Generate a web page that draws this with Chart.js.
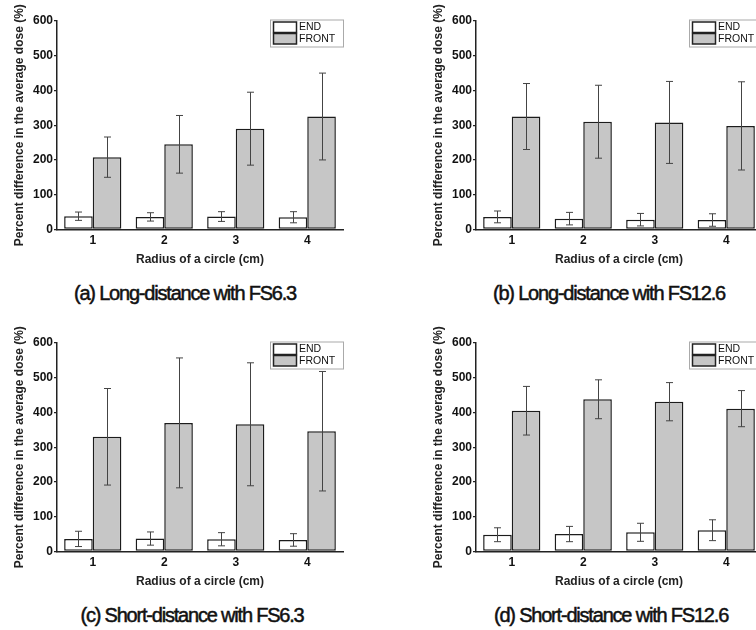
<!DOCTYPE html>
<html>
<head>
<meta charset="utf-8">
<script src="https://cdn.jsdelivr.net/npm/chart.js@4.4.0/dist/chart.umd.min.js"></script>
<style>
    body { margin: 0; background: #fff; }
    #wrap { position: relative; width: 756px; height: 630px; overflow: hidden; background: #fff; }
    #wrap canvas { position: absolute; }
    .caption {
        position: absolute; width: 300px; text-align: center;
        font-family: "Liberation Sans", Arial, sans-serif; font-size: 20px;
        letter-spacing: -1.2px; color: #111; line-height: 24px;
        -webkit-text-stroke: 0.5px #111;
    }
</style>
</head>
<body>
<div id="wrap">
    <canvas id="chartA" width="360" height="280" style="left:0px;top:0px"></canvas>
    <canvas id="chartB" width="360" height="280" style="left:419px;top:0px"></canvas>
    <canvas id="chartC" width="360" height="280" style="left:0px;top:322px"></canvas>
    <canvas id="chartD" width="360" height="280" style="left:419px;top:322px"></canvas>
    <div class="caption" style="left:35px;top:281px">(a) Long-distance with FS6.3</div>
    <div class="caption" style="left:459px;top:281px">(b) Long-distance with FS12.6</div>
    <div class="caption" style="left:42px;top:603px">(c) Short-distance with FS6.3</div>
    <div class="caption" style="left:461px;top:603px">(d) Short-distance with FS12.6</div>
</div>
<script>
const radii = ['1', '2', '3', '4'];
const seriesNames = ['END', 'FRONT'];
const yTicks = [0, 100, 200, 300, 400, 500, 600];

// (a) long-distance FS6.3
const aEnd = [38, 36, 37, 35];
const aEndErr = [12, 12, 14, 16];
const aFront = [208, 245, 290, 325];
const aFrontErr = [58, 83, 105, 125];
// (b) long-distance FS12.6
const bEnd = [36, 31, 28, 27];
const bEndErr = [17, 18, 18, 18];
const bFront = [325, 310, 308, 298];
const bFrontErr = [95, 105, 118, 127];
// (c) short-distance FS6.3
const cEnd = [36, 37, 35, 33];
const cEndErr = [22, 19, 19, 18];
const cFront = [330, 370, 366, 346];
const cFrontErr = [139, 187, 177, 172];
// (d) short-distance FS12.6
const dEnd = [48, 50, 55, 61];
const dEndErr = [20, 22, 26, 30];
const dFront = [405, 438, 431, 411];
const dFrontErr = [70, 56, 55, 52];

Chart.defaults.font.family = '"Liberation Sans", Arial, sans-serif';
Chart.defaults.color = '#111';

const errorBars = {
    id: 'errorBars',
    afterDatasetsDraw(chart) {
        const ctx = chart.ctx;
        const y = chart.scales.y;
        ctx.save();
        ctx.strokeStyle = '#444';
        ctx.lineWidth = 1;
        chart.data.datasets.forEach((ds, i) => {
            const meta = chart.getDatasetMeta(i);
            meta.data.forEach((bar, j) => {
                const top = y.getPixelForValue(ds.data[j] + ds.err[j]);
                const bot = y.getPixelForValue(ds.data[j] - ds.err[j]);
                const x = Math.round(bar.x) + 0.5;
                ctx.beginPath();
                ctx.moveTo(x, top); ctx.lineTo(x, bot);
                ctx.moveTo(x - 3.5, top); ctx.lineTo(x + 3.5, top);
                ctx.moveTo(x - 3.5, bot); ctx.lineTo(x + 3.5, bot);
                ctx.stroke();
            });
        });
        ctx.restore();
    }
};

const boxLegend = {
    id: 'boxLegend',
    afterDraw(chart) {
        const ctx = chart.ctx;
        const area = chart.chartArea;
        const left = area.right - 73, top = area.top - 1.5;
        ctx.save();
        ctx.strokeStyle = '#aaa';
        ctx.lineWidth = 1;
        ctx.strokeRect(left + 0.5, top + 0.5, 73, 27);
        ctx.font = '10.5px "Liberation Sans", Arial, sans-serif';
        ctx.textBaseline = 'middle';
        chart.data.datasets.forEach((ds, i) => {
            const sy = top + 2.5 + i * 11.5;
            ctx.fillStyle = ds.backgroundColor;
            ctx.fillRect(left + 3.5, sy, 23, 10.5);
            ctx.strokeStyle = '#222';
            ctx.lineWidth = 1.5;
            ctx.strokeRect(left + 3.5, sy, 23, 10.5);
            ctx.fillStyle = '#111';
            ctx.fillText(ds.label, left + 29, sy + 5.5);
        });
        ctx.restore();
    }
};

function makePanel(id, endVals, endErr, frontVals, frontErr) {
    const ctx = document.getElementById(id).getContext('2d');
    return new Chart(ctx, {
        type: 'bar',
        data: {
            labels: radii,
            datasets: [
                {
                    label: seriesNames[0],
                    data: endVals,
                    err: endErr,
                    backgroundColor: '#ffffff',
                    borderColor: '#1c1c1c',
                    borderWidth: 1.5,
                    borderSkipped: false,
                    categoryPercentage: 0.8,
                    barPercentage: 1.0,
                },
                {
                    label: seriesNames[1],
                    data: frontVals,
                    err: frontErr,
                    backgroundColor: '#c6c6c6',
                    borderColor: '#1c1c1c',
                    borderWidth: 1.5,
                    borderSkipped: false,
                    categoryPercentage: 0.8,
                    barPercentage: 1.0,
                }
            ]
        },
        options: {
            responsive: false,
            animation: false,
            devicePixelRatio: 1,
            layout: { padding: { top: 21, right: 17, left: 0, bottom: 0 } },
            plugins: {
                legend: { display: false },
                tooltip: { enabled: false },
            },
            scales: {
                x: {
                    offset: true,
                    grid: { display: true, drawOnChartArea: false, drawTicks: false },
                    border: { color: '#222', width: 1.5 },
                    ticks: { padding: 4, font: { size: 12, weight: 'bold' }, color: '#111' },
                    title: {
                        display: true,
                        text: 'Radius of a circle (cm)',
                        font: { size: 12, weight: 'bold' },
                        color: '#222',
                        padding: { top: 0, bottom: 13 },
                    },
                    afterFit: (scale) => { scale.height = 50.6; },
                },
                y: {
                    min: 0,
                    max: 600,
                    afterBuildTicks: (scale) => { scale.ticks = yTicks.map(v => ({ value: v })); },
                    grid: { drawOnChartArea: false, drawTicks: true, tickLength: 3, color: '#222', lineWidth: 1.2 },
                    border: { color: '#222', width: 1.5 },
                    ticks: { padding: 1, font: { size: 12, weight: 'bold' }, color: '#111' },
                    title: {
                        display: true,
                        text: 'Percent difference in the average dose (%)',
                        font: { size: 12, weight: 'bold' },
                        color: '#222',
                        padding: { top: 12, bottom: 0 },
                    },
                    afterFit: (scale) => { scale.width = 57; },
                }
            }
        },
        plugins: [errorBars, boxLegend]
    });
}

makePanel('chartA', aEnd, aEndErr, aFront, aFrontErr);
makePanel('chartB', bEnd, bEndErr, bFront, bFrontErr);
makePanel('chartC', cEnd, cEndErr, cFront, cFrontErr);
makePanel('chartD', dEnd, dEndErr, dFront, dFrontErr);
</script>
</body>
</html>
